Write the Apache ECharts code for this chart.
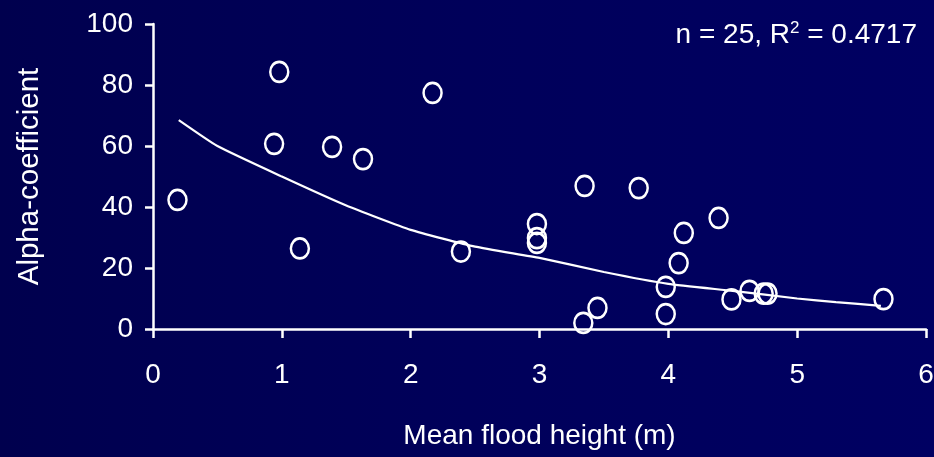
<!DOCTYPE html>
<html>
<head>
<meta charset="utf-8">
<script src="https://cdn.jsdelivr.net/npm/echarts@6/dist/echarts.min.js"></script>
<style>
html,body{margin:0;padding:0;background:#000060;}
#chart{width:934px;height:457px;}
</style>
</head>
<body>
<div id="chart"></div>
<script>
// Mean flood height (m) for each site
const floodHeight = [0.19, 0.98, 0.94, 1.14, 1.39, 1.63, 2.17, 2.39, 2.98, 2.98, 2.98, 3.35, 3.34, 3.45, 3.77, 3.98, 3.98, 4.08, 4.12, 4.39, 4.49, 4.63, 4.74, 4.77, 5.67];
// Alpha-coefficient for each site
const alphaCoef = [42.3, 84.3, 60.7, 26.4, 59.7, 55.7, 77.4, 25.4, 34.4, 29.8, 28.2, 46.9, 2, 6.9, 46.2, 13.8, 4.9, 21.6, 31.5, 36.4, 9.7, 12.5, 11.6, 11.6, 9.8];
// Fitted trend line
const trendX = [0.2, 0.5, 1.0, 1.5, 2.0, 2.5, 3.0, 3.5, 4.0, 4.5, 5.0, 5.3, 5.65];
const trendY = [68.5, 60.0, 50.0, 40.5, 32.5, 27.0, 23.3, 18.7, 14.8, 12.5, 10.0, 8.8, 7.6];
// Axis ticks
const xTicks = [0, 1, 2, 3, 4, 5, 6];
const yTicks = [0, 20, 40, 60, 80, 100];
const annotation = 'n = 25, R{s|2} = 0.4717';

const FONT = "'Liberation Sans', Arial, sans-serif";
const chart = echarts.init(document.getElementById('chart'), null, {renderer: 'canvas'});
chart.setOption({
  animation: false,
  backgroundColor: {
    type: 'linear', x: 0, y: 0, x2: 1, y2: 0,
    colorStops: [{offset: 0, color: '#00004e'}, {offset: 0.5, color: '#00005a'}, {offset: 1, color: '#000062'}]
  },
  textStyle: {fontFamily: FONT},
  title: {
    text: annotation,
    right: 17, top: 20, padding: 0,
    textStyle: {
      color: '#ffffff', fontSize: 28, fontWeight: 'normal', fontFamily: FONT,
      rich: {
        s: {fontSize: 17, color: '#ffffff', fontFamily: FONT, padding: [0, 0, 14, 0]}
      }
    }
  },
  grid: {left: 153, right: 8, top: 24, bottom: 128, containLabel: false, outerBoundsMode: 'none'},
  xAxis: {
    type: 'value', min: xTicks[0], max: xTicks[xTicks.length - 1], interval: 1,
    name: 'Mean flood height (m)', nameLocation: 'middle', nameGap: 93,
    nameTextStyle: {color: '#ffffff', fontSize: 28, fontFamily: FONT},
    axisLine: {show: true, onZero: false, lineStyle: {color: '#ffffff', width: 2.5}},
    axisTick: {show: true, length: 9, lineStyle: {color: '#ffffff', width: 2.5}},
    axisLabel: {color: '#ffffff', fontSize: 28, margin: 32, fontFamily: FONT},
    splitLine: {show: false}
  },
  yAxis: {
    type: 'value', min: yTicks[0], max: yTicks[yTicks.length - 1], interval: 20,
    name: 'Alpha-coefficient', nameLocation: 'middle', nameGap: 108, nameRotate: 90,
    nameTextStyle: {color: '#ffffff', fontSize: 29.5, fontFamily: FONT},
    axisLine: {show: true, lineStyle: {color: '#ffffff', width: 2.5}},
    axisTick: {show: true, length: 8, lineStyle: {color: '#ffffff', width: 2.5}},
    axisLabel: {color: '#ffffff', fontSize: 28, margin: 20, fontFamily: FONT},
    splitLine: {show: false}
  },
  series: [
    {
      type: 'line',
      data: trendX.map((x, i) => [x, trendY[i]]),
      smooth: 0.15,
      symbol: 'none',
      lineStyle: {color: '#ffffff', width: 2.2},
      z: 2
    },
    {
      type: 'scatter',
      data: floodHeight.map((x, i) => [x, alphaCoef[i]]),
      symbol: 'circle',
      symbolSize: [18, 20],
      itemStyle: {color: 'rgba(0,0,0,0)', borderColor: '#ffffff', borderWidth: 2.6, opacity: 1},
      z: 3
    }
  ]
});
</script>
</body>
</html>
